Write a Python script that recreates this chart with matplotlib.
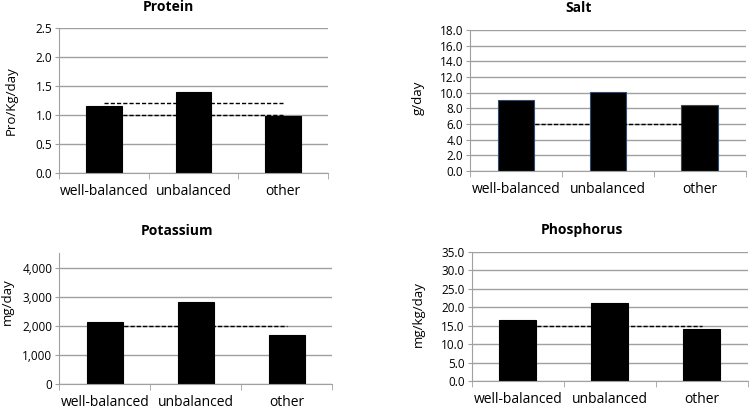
import numpy as np
import matplotlib.pyplot as plt

plt.rcParams['font.family'] = ['Open Sans', 'DejaVu Sans']

groups = ['well-balanced', 'unbalanced', 'other']

protein = [1.15, 1.40, 0.98]
salt = [9.1, 10.1, 8.4]
potassium = [2150, 2830, 1700]
phosphorus = [16.6, 21.1, 14.1]

# reference (dashed) levels
protein_ref = [1.2, 1.0]
salt_ref = [6.0]
potassium_ref = [2000]
phosphorus_ref = [15.0]

# title, values, refs, ylabel, ylim, yticks, fmt, axes rect, bar edge, title xy (px), ylabel coords
panels = [
    ('Protein', protein, protein_ref, 'Pro/Kg/day', (0, 2.5), np.arange(0, 2.51, 0.5), '{:.1f}',
     [0.079, 0.577, 0.358, 0.355], '#000000', (168, 7), (-0.156, 0.5)),
    ('Salt', salt, salt_ref, 'g/day', (0, 18), np.arange(0, 18.1, 2), '{:.1f}',
     [0.627, 0.582, 0.367, 0.345], '#3a4a60', (579, 8), (-0.164, 0.52)),
    ('Potassium', potassium, potassium_ref, 'mg/day', (0, 4500), np.arange(0, 4001, 1000), '{:,.0f}',
     [0.079, 0.061, 0.364, 0.320], '#000000', (177, 231), (-0.165, 0.63)),
    ('Phosphorus', phosphorus, phosphorus_ref, 'mg/kg/day', (0, 35), np.arange(0, 35.1, 5), '{:.1f}',
     [0.629, 0.068, 0.368, 0.316], '#000000', (582, 230), (-0.17, 0.52)),
]

fig = plt.figure(figsize=(7.5, 4.09), dpi=100)
x = np.arange(len(groups))

for title, vals, refs, ylab, ylim, yt, fmt, pos, edge, txy, lxy in panels:
    ax = fig.add_axes(pos)
    ax.bar(x, vals, width=0.4, color='black', edgecolor=edge, linewidth=0.8, zorder=2)
    for r in refs:
        ax.plot([x[0], x[-1]], [r, r], color='black', linestyle=(0, (3, 1.5)), linewidth=1, zorder=3)
    ax.set_xlim(-0.5, 2.5)
    ax.set_ylim(*ylim)
    ax.set_yticks(yt)
    ax.set_yticklabels([fmt.format(v) for v in yt], fontsize=8.5)
    ax.yaxis.grid(True, color='#a0a0a0', linewidth=1)
    ax.set_axisbelow(True)
    ax.set_xticks(x)
    ax.set_xticklabels(groups, fontsize=10)
    ax.set_xticks([-0.5, 0.5, 1.5, 2.5], minor=True)
    ax.tick_params(axis='x', which='major', length=0, pad=8)
    ax.tick_params(axis='x', which='minor', length=4, color='#a0a0a0', direction='out')
    ax.tick_params(axis='y', length=3, color='#a0a0a0', pad=2)
    for s in ['top', 'right']:
        ax.spines[s].set_visible(False)
    for s in ['left', 'bottom']:
        ax.spines[s].set_color('#a0a0a0')
    ax.set_ylabel(ylab, fontsize=9.5)
    ax.yaxis.set_label_coords(*lxy)
    fig.text(txy[0] / 750, 1 - txy[1] / 409, title, fontsize=10, fontweight='bold',
             ha='center', va='center')

fig.savefig('out.png', dpi=100)
